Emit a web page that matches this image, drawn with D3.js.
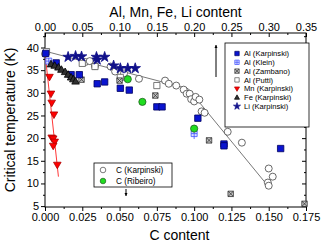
<!DOCTYPE html>
<html>
<head>
<meta charset="utf-8">
<script src="https://cdn.jsdelivr.net/npm/d3@7"></script>
<style>
  body { margin: 0; background: #fff; }
  svg { font-family: "Liberation Sans", Arial, sans-serif; }
  .tick text { font-size: 11px; fill: #000; }
  .axis path, .axis line { stroke: #000; }
</style>
</head>
<body>
<svg id="chart" width="332" height="247"></svg>
<script>
// top axis series: x = Al, Mn, Fe, Li content
const alKarpinski = [[0.001,38.7],[0.015,36.6],[0.035,34.0],[0.046,34.0],[0.070,32.0],[0.080,32.4],[0.101,31.0],[0.113,30.6],[0.150,26.9],[0.157,26.9],[0.205,24.4],[0.240,18.7],[0.240,18.3],[0.316,17.7]];
const alKlein = [[0.005,37.0],[0.200,21.0]];
const alKleinErr = [0.4, 1.2];
const alZambano = [[0.049,32.9],[0.100,32.7],[0.148,29.4],[0.220,19.5],[0.249,7.7],[0.348,5.5]];
const alPutti = [[0.002,39.1],[0.050,36.5],[0.067,35.8],[0.101,33.4],[0.150,31.6]];
const mnKarpinski = [[0.006,33.5],[0.008,29.8],[0.009,27.8],[0.012,25.2],[0.009,20.1],[0.011,19.9],[0.013,19.2],[0.011,18.3],[0.0165,14.1]];
const feKarpinski = [[0.008,36.3],[0.013,36.0],[0.018,35.6],[0.022,35.1],[0.027,34.6],[0.031,34.0],[0.035,33.4],[0.038,33.0],[0.041,32.5]];
const liKarpinski = [[0.031,37.9],[0.041,38.1],[0.049,38.0],[0.069,37.9],[0.070,37.3],[0.080,37.9],[0.092,36.0],[0.101,35.4],[0.111,35.4],[0.121,35.4]];
const mnFit = [[0,38.8],[0.018,11.5]];

// bottom axis series: x = C content
const cKarpinski = [[0.000,38.6],[0.027,36.8],[0.030,37.0],[0.0335,35.9],[0.044,35.8],[0.047,34.7],[0.053,34.3],[0.063,33.1],[0.0805,32.7],[0.083,32.0],[0.088,31.6],[0.093,30.7],[0.095,29.8],[0.097,29.8],[0.098,28.6],[0.100,28.1],[0.101,29.1],[0.1035,28.5],[0.105,25.9],[0.107,25.6],[0.1225,21.4],[0.132,19.0],[0.150,13.3],[0.1527,11.5],[0.1494,10.2],[0.150,9.5]];
const cRibeiro = [[0.0555,33.0],[0.0653,28.0],[0.100,22.1]];
const cFit = [[0,39.2],[0.096,30.9],[0.1496,9.4]];

const legendTop = ["Al (Karpinski)","Al (Klein)","Al (Zambano)","Al (Putti)","Mn (Karpinski)","Fe (Karpinski)","Li (Karpinski)"];
const legendBottom = ["C (Karpinski)","C (Ribeiro)"];

const svg = d3.select("#chart");
const mLeft = 45, mRight = 306, mTop = 33, mBottom = 207;

const xB = d3.scaleLinear().domain([0, 0.175]).range([mLeft, mRight]);
const xT = d3.scaleLinear().domain([0, 0.35]).range([mLeft, mRight]);
const y = d3.scaleLinear().domain([4.8, 43.2]).range([mBottom, mTop]);

// axes
const axis = (gen, tr) => svg.append("g").attr("class", "axis").attr("transform", tr).call(gen);
axis(d3.axisBottom(xB).tickValues(d3.range(0, 0.176, 0.025)).tickFormat(d3.format(".3f")).tickSize(4).tickSizeOuter(0).tickPadding(2), `translate(0,${mBottom})`);
axis(d3.axisBottom(xB).tickValues(d3.range(0.0125, 0.175, 0.025)).tickFormat("").tickSize(2).tickSizeOuter(0), `translate(0,${mBottom})`);
axis(d3.axisTop(xT).tickValues(d3.range(0, 0.351, 0.05)).tickFormat(d3.format(".2f")).tickSize(-4).tickSizeOuter(0).tickPadding(2), `translate(0,${mTop})`);
axis(d3.axisTop(xT).tickValues(d3.range(0.025, 0.35, 0.05)).tickFormat("").tickSize(-2).tickSizeOuter(0), `translate(0,${mTop})`);
axis(d3.axisLeft(y).tickValues(d3.range(5, 41, 5)).tickFormat(d3.format("d")).tickSize(4).tickSizeOuter(0).tickPadding(2), `translate(${mLeft},0)`);
axis(d3.axisLeft(y).tickValues(d3.range(7.5, 43, 5)).tickFormat("").tickSize(2).tickSizeOuter(0), `translate(${mLeft},0)`);
axis(d3.axisRight(y).tickValues(d3.range(5, 41, 5)).tickFormat("").tickSize(-4).tickSizeOuter(0), `translate(${mRight},0)`);
axis(d3.axisRight(y).tickValues(d3.range(7.5, 43, 5)).tickFormat("").tickSize(-2).tickSizeOuter(0), `translate(${mRight},0)`);
svg.selectAll(".axis path.domain").remove();
svg.append("rect").attr("x", mLeft).attr("y", mTop).attr("width", mRight - mLeft).attr("height", mBottom - mTop)
  .attr("fill", "none").attr("stroke", "#000");

// axis titles
svg.append("text").attr("x", (mLeft + mRight) / 2).attr("y", 17).attr("text-anchor", "middle")
  .attr("font-size", 14).text("Al, Mn, Fe, Li content");
svg.append("text").attr("x", (mLeft + mRight) / 2 + 4).attr("y", 240).attr("text-anchor", "middle")
  .attr("font-size", 14).text("C content");
svg.append("text").attr("transform", `translate(15,${(mTop + mBottom) / 2}) rotate(-90)`).attr("text-anchor", "middle")
  .attr("font-size", 14).text("Critical temperature (K)");

// fit lines
const lineT = d3.line().x(d => xT(d[0])).y(d => y(d[1]));
const lineB = d3.line().x(d => xB(d[0])).y(d => y(d[1]));
svg.append("path").datum(cFit).attr("d", lineB).attr("fill", "none").attr("stroke", "#555").attr("stroke-width", 0.8);
svg.append("path").datum(mnFit).attr("d", lineT).attr("fill", "none").attr("stroke", "#ff2020").attr("stroke-width", 0.9);

// marker shapes
const shapes = {
  square: s => `M${-s},${-s}h${2 * s}v${2 * s}h${-2 * s}z`,
  cross: s => `M${-s},${-s}h${2 * s}v${2 * s}h${-2 * s}z M0,${-s}v${2 * s} M${-s},0h${2 * s}`,
  xbox: s => `M${-s},${-s}h${2 * s}v${2 * s}h${-2 * s}z M${-s},${-s}L${s},${s} M${s},${-s}L${-s},${s}`,
  down: s => `M${-s * 1.15},${-s * 0.8}L${s * 1.15},${-s * 0.8}L0,${s * 1.2}z`,
  up: s => `M${-s * 1.15},${s * 0.8}L${s * 1.15},${s * 0.8}L0,${-s * 1.2}z`,
  circle: s => d3.symbol(d3.symbolCircle, Math.PI * s * s)(),
  star: s => d3.symbol(d3.symbolStar, s * s * 3.2)()
};

const styles = {
  "Al (Karpinski)": { shape: "square", fill: "#0a14d0", stroke: "#000060" },
  "Al (Klein)": { shape: "cross", fill: "#dde0ff", stroke: "#4050ff" },
  "Al (Zambano)": { shape: "xbox", fill: "#c8c8c8", stroke: "#303030" },
  "Al (Putti)": { shape: "square", fill: "#fff", stroke: "#555" },
  "Mn (Karpinski)": { shape: "down", fill: "#ff0000", stroke: "#b00000" },
  "Fe (Karpinski)": { shape: "up", fill: "#303030", stroke: "#000" },
  "Li (Karpinski)": { shape: "star", fill: "#10108a", stroke: "#10108a" },
  "C (Karpinski)": { shape: "circle", fill: "#fff", stroke: "#444" },
  "C (Ribeiro)": { shape: "circle", fill: "#20dd20", stroke: "#206020" }
};

const plotSeries = (data, name, x, size) => {
  const st = styles[name];
  svg.append("g").selectAll("path").data(data).enter().append("path")
    .attr("d", shapes[st.shape](size))
    .attr("transform", d => `translate(${x(d[0])},${y(d[1])})`)
    .attr("fill", st.fill).attr("stroke", st.stroke).attr("stroke-width", 0.8);
};

// Klein error bar
svg.append("line").attr("x1", xT(alKlein[1][0])).attr("x2", xT(alKlein[1][0]))
  .attr("y1", y(alKlein[1][1] - alKleinErr[1])).attr("y2", y(alKlein[1][1] + alKleinErr[1]))
  .attr("stroke", "#4050ff").attr("stroke-width", 0.8);

plotSeries(cKarpinski, "C (Karpinski)", xB, 3.5);
plotSeries(alPutti, "Al (Putti)", xT, 3.1);
plotSeries(alZambano, "Al (Zambano)", xT, 2.7);
plotSeries(alKlein, "Al (Klein)", xT, 3);
plotSeries(cRibeiro, "C (Ribeiro)", xB, 3.6);
plotSeries(alKarpinski, "Al (Karpinski)", xT, 3.2);
plotSeries(feKarpinski, "Fe (Karpinski)", xT, 3.3);
plotSeries(mnKarpinski, "Mn (Karpinski)", xT, 3.3);
plotSeries(liKarpinski, "Li (Karpinski)", xT, 3.3);

// legends
const legend = (names, x0, y0, w, h, rowY, dy, size, symX, textX, fs) => {
  svg.append("rect").attr("x", x0).attr("y", y0).attr("width", w).attr("height", h)
    .attr("fill", "#fff").attr("stroke", "#000").attr("stroke-width", 0.8);
  names.forEach((n, i) => {
    const st = styles[n];
    const cy = rowY + i * dy;
    svg.append("path").attr("d", shapes[st.shape](size)).attr("transform", `translate(${x0 + symX},${cy})`)
      .attr("fill", st.fill).attr("stroke", st.stroke).attr("stroke-width", 0.7);
    svg.append("text").attr("x", x0 + textX).attr("y", cy + fs * 0.36).attr("font-size", fs).text(n);
  });
};
legend(legendTop, 225, 43, 84, 84, 53.5, 8.8, 2.2, 12, 19, 7.6);
legend(legendBottom, 94, 163, 78, 24, 170, 11, 2.8, 9, 22, 8.2);

// arrows pointing to the relevant axis
const arrow = (x, y1, y2) => {
  svg.append("line").attr("x1", x).attr("x2", x).attr("y1", y1).attr("y2", y2).attr("stroke", "#000").attr("stroke-width", 1);
  const dir = y2 < y1 ? -1 : 1;
  svg.append("path").attr("d", `M${x - 1.5},${y2 - dir * 3}L${x + 1.5},${y2 - dir * 3}L${x},${y2}z`).attr("fill", "#000");
};
arrow(216, 77, 45);
arrow(126, 189, 196);
</script>
</body>
</html>
